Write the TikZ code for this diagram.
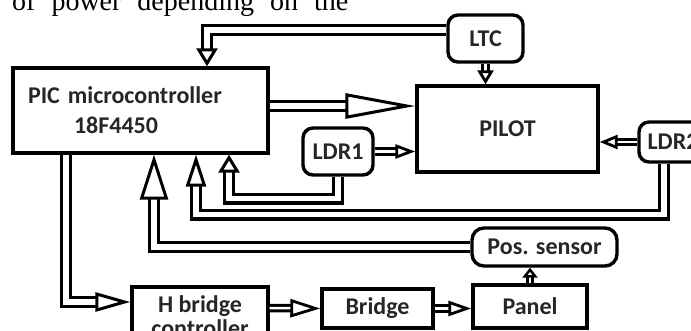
\documentclass[tikz,border=0pt]{standalone}
\usepackage{fontspec}
\setmainfont{Liberation Serif}
\newfontfamily\blockfont{Carlito}
\usetikzlibrary{arrows.meta}
\tikzset{
  block/.style={draw,line width=3.4pt,font=\blockfont\bfseries\fontsize{24}{24}\selectfont,text=black!85,align=center,inner sep=0pt},
  sensor/.style={block,rounded corners=10pt},
  bus/.style 2 args={double,line width=3.2pt,double distance=5.5pt,-{Triangle[open,length=#1,width=#2,line width=3pt]}},
  link/.style 2 args={double,line width=3pt,double distance=2.5pt,-{Triangle[open,length=#1,width=#2,line width=2.8pt]}}
}

\begin{document}
\begin{tikzpicture}[x=1pt,y=-1pt]
  \useasboundingbox (0,0) rectangle (691,331);
  \node[anchor=base west,font=\fontsize{28}{30}\selectfont,inner sep=0pt] (txt) at (12,11) {\spaceskip=16pt of power depending on the};
  % blocks
  \node[block,minimum width=255pt,minimum height=85pt,text width=225pt,align=left] (pic) at (140.5,110.5) {PIC microcontroller\\[6pt]\hspace*{46pt}18F4450};
  \node[sensor,minimum width=75pt,minimum height=47pt] (ltc) at (485.5,38.5) {LTC};
  \node[block,minimum width=181pt,minimum height=86pt] (pilot) at (507.5,129) {PILOT};
  \node[sensor,minimum width=70pt,minimum height=47pt] (ldr1) at (338,151.5) {LDR1};
  \node[sensor,minimum width=68pt,minimum height=40pt] (ldr2) at (673,142) {LDR2};
  \node[sensor,rounded corners=12pt,minimum width=145pt,minimum height=38pt] (pos) at (544.5,247) {Pos. sensor};
  \node[block,minimum width=114pt,minimum height=43pt] (panel) at (530,306.5) {Panel};
  \node[block,minimum width=111pt,minimum height=39pt] (bridge) at (377.5,308.5) {Bridge};
  \node[block,minimum width=136pt,minimum height=58pt] (hbc) at (200,316) {H bridge\\controller};
  % connectors
  \draw[bus={18pt}{21pt}] ([yshift=8.5pt]ltc.west) -| ([xshift=66.5pt]pic.north);
  \draw[link={14pt}{16pt}] (ltc) -- (ltc |- pilot.north);
  \draw[bus={70pt}{25pt}] ([yshift=4.5pt]pic.east) -- ([yshift=23pt]pilot.west);
  \draw[link={20pt}{14pt}] (ldr1.east) -- ([yshift=-22.5pt]pilot.west);
  \draw[link={18pt}{14pt}] (ldr2.west) -- ([yshift=-13pt]pilot.east);
  \draw[bus={18pt}{21pt}] (ldr1.south) -- ++(0,22) -| ([xshift=88.5pt]pic.south);
  \draw[bus={32pt}{20pt}] ([xshift=-9pt]ldr2.south) -- ++(0,51) -| ([xshift=55.5pt]pic.south);
  \draw[bus={45pt}{28pt}] (pos.west) -| ([xshift=13.5pt]pic.south);
  \draw[bus={35pt}{19pt}] ([xshift=-74.5pt]pic.south) |- ([yshift=14pt]hbc.west);
  \draw[link={30pt}{18pt}] ([yshift=8pt]hbc.east) -- (bridge.west);
  \draw[link={23pt}{15pt}] (bridge.east) -- (bridge.east -| panel.west);
  \draw[link={10pt}{15pt}] (panel.north) -- (panel.north |- pos.south);
\end{tikzpicture}
\end{document}
